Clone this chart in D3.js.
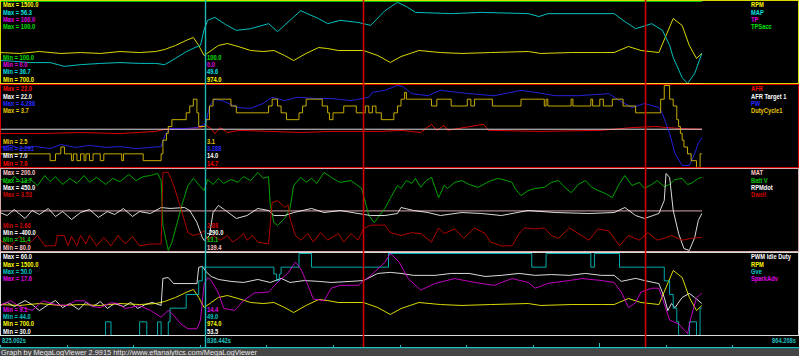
<!DOCTYPE html>
<html>
<head>
<meta charset="utf-8">
<script src="https://cdn.jsdelivr.net/npm/d3@7"></script>
<style>
	html, body { margin: 0; padding: 0; background: #000; overflow: hidden; }
</style>
</head>
<body>
<div id="chart"></div>
<script>
/**
 * log window: 825.002s .. 864.208s, cursor and two red markers
 */
const time_start = 825.002, time_end = 864.208;
const cursor_time = 836.442;
const marker_times = [845.28, 861.02];
const time_labels = ['825.002s', '836.442s', '864.208s'];
const footer_text = 'Graph by MegaLogViewer 2.9915 http://www.efianalytics.com/MegaLogViewer';

// panel 1
const p1_names = ['RPM', 'MAP', 'TP', 'TPSacc'];
const p1_colors = ['#ffff00', '#00e0e0', '#e000e0', '#00e000'];
const p1_max = ['1500.0', '56.3', '100.0', '100.0'];
const p1_min = ['700.0', '36.7', '0.0', '100.0'];
const p1_cursor = ['974.0', '49.6', '0.0', '100.0'];

// panel 2
const p2_names = ['AFR', 'AFR Target 1', 'PW', 'DutyCycle1'];
const p2_colors = ['#ff0000', '#ffffff', '#2828ff', '#e8c800'];
const p2_max = ['22.0', '22.0', '4.288', '3.7'];
const p2_min = ['7.0', '7.0', '2.291', '2.5'];
const p2_cursor = ['14.7', '14.0', '3.288', '3.1'];

// panel 3
const p3_names = ['MAT', 'Batt V', 'RPMdot', 'Dwell'];
const p3_colors = ['#ffc8c8', '#00c000', '#ffffff', '#d00000'];
const p3_max = ['200.0', '13.7', '450.0', '3.53'];
const p3_min = ['80.0', '11.4', '-400.0', '2.66'];
const p3_cursor = ['139.4', '13.1', '-290.0', '2.88'];

// panel 4
const p4_names = ['PWM Idle Duty', 'RPM', 'Gve', 'SparkAdv'];
const p4_colors = ['#ffffff', '#ffff00', '#00c8c8', '#e000e0'];
const p4_max = ['60.0', '1500.0', '50.0', '17.6'];
const p4_min = ['30.0', '700.0', '44.0', '9.1'];
const p4_cursor = ['53.5', '974.0', '49.0', '14.4'];

// [time s, value]
const rpm_data = [[825.0,1002],[826.1,993],[827.2,1012],[828.4,993],[829.5,1002],[830.6,993],[831.7,1012],[832.8,1002],
	[833.7,1012],[834.2,1032],[834.8,1071],[835.4,1120],[835.8,1149],[836.1,1071],[836.4,973],[836.8,1022],[837.2,1071],
	[837.7,1090],[838.3,1061],[839.0,1022],[839.7,1012],[840.3,1022],[840.9,973],[841.4,924],[842.1,993],[842.8,1051],
	[843.3,1041],[843.9,1022],[844.6,1022],[845.3,1022],[846.1,973],[846.8,905],[847.4,963],[848.4,1022],[849.6,1002],
	[850.8,993],[852.4,1002],[854.5,1012],[855.2,993],[856.9,1002],[858.6,1002],[859.3,1002],[860.1,1061],[860.8,1022],
	[861.8,1002],[862.2,1168],[862.6,1334],[863.1,1266],[863.5,1071],[863.9,944],[864.2,993]];

const map_data = [[825.0,42.2],[825.8,42.0],[826.7,41.7],[827.8,41.7],[828.6,40.8],[829.5,41.2],[830.6,41.5],[831.7,41.7],
	[832.8,41.5],[833.7,41.5],[834.2,41.2],[834.8,42.7],[835.4,44.3],[835.9,45.3],[836.2,45.8],[836.4,49.6],[836.6,51.8],
	[837.0,52.5],[837.6,50.8],[838.2,49.4],[839.0,49.8],[840.0,51.0],[840.5,49.1],[841.2,51.8],[841.8,54.1],[842.8,52.2],
	[843.3,51.0],[844.0,51.8],[845.0,51.3],[845.7,50.6],[846.5,54.1],[847.2,56.1],[847.7,55.1],[848.2,53.7],[850.2,53.4],
	[851.9,53.7],[854.5,53.4],[855.1,52.7],[855.6,53.4],[859.3,53.4],[859.8,51.8],[860.5,49.8],[861.4,51.0],[862.0,49.4],
	[862.4,45.8],[862.6,42.9],[863.1,38.1],[863.4,36.7],[863.8,39.1],[864.2,43.9]];

const tp_data = [[825.002,0],[864.208,0]];
const tpsacc_data = [[825.002,100],[864.208,100]];

const afr_data = [[825.0,13.2],[827.2,13.2],[829.5,13.4],[831.7,13.2],[833.7,13.6],[834.2,14.0],[835.4,14.1],[836.2,14.3],
	[836.5,14.7],[836.8,14.1],[837.0,13.2],[837.3,14.3],[837.7,13.4],[838.4,13.8],[840.1,13.6],[841.8,13.4],[843.5,13.6],
	[846.3,13.6],[847.4,13.8],[848.5,13.4],[849.1,14.9],[849.4,13.8],[849.8,14.7],[850.0,13.8],[852.0,14.9],[852.3,13.8],
	[855.2,13.6],[858.6,13.8],[860.3,14.3],[861.6,14.5],[863.1,14.1],[864.2,14.0]];

const afr_target_data = [[825.002,14.0],[864.208,14.0]];

const pw_data = [[825.0,2.78],[825.6,2.83],[826.1,2.75],[827.0,2.80],[827.8,2.75],[828.4,2.85],[829.2,2.78],[830.0,2.83],
	[830.9,2.78],[831.7,2.80],[832.6,2.75],[833.4,2.78],[834.0,2.80],[834.2,3.07],[834.5,3.24],[835.3,3.24],[836.0,3.26],
	[836.5,3.36],[836.7,3.78],[837.0,3.95],[837.4,3.92],[838.3,3.75],[839.0,3.73],[839.7,3.85],[840.2,4.0],[840.9,3.92],
	[841.6,4.0],[842.8,3.97],[843.5,3.97],[844.6,3.92],[845.6,4.0],[845.8,4.12],[846.5,4.17],[847.2,4.29],[847.5,4.26],
	[848.0,4.09],[848.9,4.04],[849.6,4.17],[851.2,4.09],[852.6,4.04],[854.1,4.17],[854.9,4.12],[856.0,4.04],[857.3,4.04],
	[859.0,4.09],[859.6,3.92],[860.3,3.75],[861.0,3.85],[861.8,3.75],[862.0,3.6],[862.4,3.12],[862.7,2.63],[863.1,2.34],
	[863.5,2.34],[863.8,2.63],[864.0,2.88],[864.2,3.02]];

// step changes
const duty_data = [[825.0,2.7],[827.8,2.6],[828.1,2.7],[828.4,2.8],[828.6,2.7],[829.0,2.6],[829.1,2.7],[829.3,2.6],
	[829.5,2.7],[829.7,2.6],[829.8,2.7],[830.0,2.6],[830.2,2.7],[830.6,2.6],[830.8,2.7],[831.8,2.6],[831.9,2.7],[833.0,2.6],
	[834.0,2.7],[834.1,2.9],[834.3,3.0],[834.4,3.1],[834.6,3.2],[835.4,3.3],[835.6,3.4],[835.8,3.5],[836.0,3.3],[836.1,3.1],
	[836.5,3.2],[836.7,3.4],[836.9,3.5],[837.9,3.4],[838.2,3.3],[840.0,3.4],[840.2,3.5],[840.5,3.4],[840.7,3.3],[841.0,3.2],
	[841.7,3.3],[841.9,3.4],[842.1,3.5],[843.0,3.4],[843.3,3.3],[843.4,3.2],[843.6,3.3],[844.2,3.4],[844.9,3.3],[845.4,3.4],
	[845.6,3.3],[845.8,3.4],[846.0,3.3],[846.3,3.2],[847.0,3.3],[847.2,3.4],[847.4,3.5],[847.6,3.6],[847.7,3.5],[849.1,3.4],
	[849.4,3.5],[850.2,3.4],[851.1,3.5],[851.3,3.4],[851.5,3.5],[852.5,3.4],[854.1,3.5],[855.4,3.4],[855.5,3.5],[855.6,3.4],
	[856.9,3.5],[857.0,3.4],[858.0,3.5],[858.1,3.4],[858.5,3.5],[858.7,3.4],[859.2,3.5],[859.8,3.4],[860.5,3.3],[861.9,3.5],
	[862.1,3.7],[862.4,3.5],[862.6,3.4],[862.8,3.2],[862.9,3.1],[863.0,3.0],[863.1,2.9],[863.2,2.8],[863.4,2.7],[863.6,2.6],
	[863.9,2.5],[864.1,2.7],[864.2,2.7]];

const mat_data = [[825.002,139.4],[864.208,139.4]];

const battv_data = [[825.0,13.45],[825.4,13.31],[825.8,13.50],[826.2,13.34],[826.7,13.42],[827.1,13.25],[827.5,13.53],
	[827.8,13.36],[828.1,13.50],[828.5,13.28],[828.9,13.45],[829.3,13.31],[829.7,13.53],[830.0,13.34],[830.4,13.48],
	[830.9,13.28],[831.3,13.45],[831.7,13.36],[832.2,13.56],[832.6,13.39],[833.0,13.50],[833.4,13.53],[833.8,13.59],
	[834.0,13.39],[834.1,12.13],[834.4,11.43],[834.6,11.65],[834.9,12.21],[835.2,12.77],[835.5,13.25],[835.8,13.45],
	[836.2,13.22],[836.4,13.11],[836.6,13.42],[836.9,13.28],[837.2,13.45],[837.5,13.31],[837.9,13.42],[838.3,13.34],
	[838.6,13.50],[839.0,13.39],[839.4,13.62],[839.7,13.45],[840.0,13.50],[840.1,12.69],[840.3,12.21],[840.5,12.13],
	[840.9,12.33],[841.2,12.61],[841.4,13.25],[841.8,13.48],[842.1,13.34],[842.4,13.45],[842.7,13.31],[843.1,13.62],
	[843.5,13.48],[843.8,13.39],[844.0,13.34],[844.6,13.39],[845.2,13.17],[845.6,12.41],[845.9,12.21],[846.5,12.61],
	[846.8,12.89],[847.2,13.25],[847.4,13.17],[847.7,13.39],[848.0,13.31],[848.2,13.45],[848.5,13.20],[848.8,13.39],
	[849.1,13.48],[849.5,12.91],[849.8,13.25],[850.0,13.17],[850.4,13.34],[850.8,13.39],[851.2,13.28],[851.7,13.20],
	[852.3,13.36],[852.8,13.45],[853.3,13.39],[853.6,13.34],[853.8,13.14],[854.1,12.97],[854.5,13.11],[854.9,13.17],
	[855.4,13.20],[855.8,13.34],[856.2,13.39],[856.5,13.22],[856.9,13.05],[857.3,13.28],[857.7,13.39],[858.0,13.22],
	[858.4,13.11],[858.8,13.03],[859.2,12.91],[859.6,13.31],[859.9,13.53],[860.3,13.25],[860.7,13.34],[861.0,13.17],
	[861.4,13.28],[861.7,13.39],[862.1,13.22],[862.4,13.28],[862.7,13.42],[863.1,13.45],[863.4,13.28],[863.6,13.31],
	[864.0,13.45],[864.2,13.48]];

const rpmdot_data = [[825.0,4],[825.4,-27],[825.8,35],[826.4,-58],[826.8,25],[827.2,-16],[827.7,46],[828.1,-37],
	[828.5,14],[829.0,-68],[829.5,4],[830.0,35],[830.5,-47],[831.0,14],[831.4,-16],[831.9,46],[832.4,-37],[832.8,14],
	[833.4,-6],[834.0,56],[834.5,46],[835.3,56],[835.6,25],[836.0,-99],[836.3,-255],[836.4,-286],[836.7,-234],[836.9,4],
	[837.2,77],[837.6,25],[838.2,-58],[838.8,-27],[839.4,46],[840.0,25],[840.3,-27],[840.9,-27],[841.4,4],[842.4,46],
	[843.1,4],[844.0,25],[845.0,-6],[845.7,-27],[846.5,-27],[847.2,-6],[847.4,56],[848.1,25],[848.9,4],[849.6,-27],
	[850.8,4],[851.9,-6],[853.0,-27],[854.5,25],[856.0,4],[857.9,-6],[859.3,4],[859.9,56],[860.5,-27],[861.0,-58],
	[861.8,-6],[862.1,129],[862.2,409],[862.4,367],[862.6,25],[862.9,-213],[863.2,-369],[863.5,-390],[863.8,-255],
	[864.0,-79],[864.2,-6]];

const dwell_data = [[825.0,2.78],[825.6,2.72],[826.1,2.82],[826.6,2.74],[827.1,2.83],[827.5,2.72],[828.1,2.72],[828.2,2.83],
	[828.6,2.83],[828.8,2.72],[829.0,2.82],[829.3,2.72],[829.5,2.83],[829.8,2.74],[830.0,2.83],[830.4,2.72],[830.8,2.81],
	[831.2,2.72],[831.6,2.83],[832.0,2.74],[832.4,2.82],[832.8,2.72],[833.4,2.74],[834.0,2.74],[834.1,3.50],[834.4,3.50],
	[834.7,3.36],[835.1,3.12],[835.5,2.86],[835.8,2.83],[836.2,2.85],[836.4,2.88],[836.6,2.78],[836.9,2.83],[837.3,2.78],
	[837.7,2.83],[838.0,2.76],[838.3,2.80],[838.6,2.85],[838.8,2.78],[839.1,2.83],[839.4,2.76],[840.0,2.74],[840.2,3.18],
	[840.5,3.20],[840.9,3.13],[841.1,3.15],[841.2,3.01],[841.5,2.83],[841.8,2.78],[842.2,2.85],[842.5,2.76],[842.9,2.86],
	[843.3,2.78],[843.9,2.85],[844.2,2.76],[844.6,2.85],[845.0,2.78],[845.3,2.90],[845.7,2.94],[846.5,2.94],[846.8,2.86],
	[847.4,2.83],[848.0,2.86],[848.5,2.85],[849.1,2.76],[849.5,2.91],[849.8,2.85],[850.4,2.90],[850.9,2.80],[851.5,2.91],
	[852.1,2.85],[852.4,2.76],[853.0,2.72],[853.6,2.72],[854.0,2.85],[854.3,2.91],[854.9,2.90],[855.4,2.91],[855.8,2.83],
	[856.2,2.80],[856.8,2.91],[857.3,2.85],[857.9,2.78],[858.4,2.90],[859.0,2.88],[859.6,2.72],[860.1,2.83],[860.7,2.78],
	[861.2,2.86],[861.7,2.78],[862.1,2.80],[862.5,2.83],[863.1,2.78],[863.6,2.80],[864.2,2.81]];

const idle_data = [[825.0,41.0],[825.4,42.1],[825.8,40.6],[826.4,42.8],[826.8,41.3],[827.2,39.1],[827.7,41.3],[828.1,42.8],
	[828.5,40.2],[828.9,41.7],[829.4,39.5],[829.8,42.1],[830.2,40.6],[830.6,42.4],[831.0,39.9],[831.4,41.7],[831.9,40.6],
	[832.3,42.1],[832.7,39.9],[833.1,41.3],[833.5,42.1],[834.0,41.0],[834.1,50.9],[834.4,51.2],[834.7,49.0],[836.0,49.0],
	[836.1,54.9],[836.3,55.3],[836.5,53.4],[836.8,51.6],[837.2,50.5],[837.9,49.8],[838.6,49.4],[839.4,50.5],[840.1,49.4],
	[840.7,50.9],[841.2,49.4],[842.0,50.1],[842.8,49.8],[843.5,49.4],[844.6,49.8],[845.3,50.1],[846.1,52.7],[846.8,53.1],
	[847.4,52.7],[848.1,52.0],[849.3,52.0],[850.2,52.7],[851.2,52.7],[852.1,51.6],[853.0,52.0],[854.0,52.7],[854.9,52.0],
	[855.8,52.3],[856.8,52.0],[857.7,52.7],[858.6,52.0],[859.3,52.0],[859.7,49.8],[860.5,50.9],[861.0,50.1],[861.8,49.0],
	[862.1,43.9],[862.3,39.1],[862.5,41.7],[862.7,40.2],[863.1,43.9],[863.5,45.4],[863.8,43.9],[864.2,41.7]];

// step changes
const gve_data = [[825.0,44],[830.9,45],[831.2,44],[832.8,45],[833.2,44],[833.8,45],[834.0,44],[834.4,45],[834.5,46],
	[835.4,47],[836.1,48],[836.3,49],[840.3,48.5],[840.45,48],[840.6,48.5],[840.7,49],[841.7,50],[842.4,49],[846.7,50],
	[854.7,49],[855.5,50],[858.0,49],[858.2,50],[859.6,49],[862.1,48],[862.4,47],[862.6,46],[862.8,45],[862.9,44],
	[863.5,45],[863.9,44],[864.1,46],[864.2,46]];

const spark_data = [[825.0,12.2],[825.6,12.7],[826.1,12.1],[826.8,11.7],[827.4,12.7],[828.1,12.3],[828.8,12.2],[829.2,12.7],
	[829.7,12.7],[830.2,12.1],[830.6,12.0],[831.2,12.5],[831.6,12.4],[832.0,11.9],[832.3,12.0],[832.8,12.2],[833.4,11.7],
	[834.0,11.0],[834.4,11.7],[834.7,11.2],[835.1,10.3],[835.5,9.8],[836.0,9.8],[836.2,10.7],[836.4,14.4],[836.6,15.1],
	[836.8,14.8],[837.2,13.5],[837.5,11.9],[838.1,11.7],[838.6,12.7],[839.2,13.5],[840.0,13.6],[840.5,14.6],[841.1,15.6],
	[841.5,16.7],[841.8,16.0],[842.2,14.3],[842.5,12.9],[843.1,12.7],[843.5,14.0],[844.0,14.3],[845.0,14.3],[845.7,15.3],
	[846.5,16.7],[846.8,17.6],[847.3,16.7],[847.8,15.0],[848.5,13.8],[849.3,14.5],[850.4,15.0],[851.5,14.6],[852.6,14.3],
	[853.6,15.0],[854.5,14.6],[854.9,14.0],[855.6,14.5],[856.8,14.8],[857.5,15.0],[858.6,14.8],[859.3,14.6],[859.7,13.6],
	[860.1,12.0],[860.5,12.5],[860.8,13.6],[861.4,14.0],[861.8,14.0],[862.1,12.4],[862.4,10.7],[862.9,10.3],[863.4,9.3],
	[863.6,11.0],[863.9,13.0],[864.2,13.5]];

/**
 * panel table built from the arrays above
 */
const make_panel = (names, colors, maxs, mins, cursors, datas, steps) => names.map((name, i) => ({
	name: name, color: colors[i], max: maxs[i], min: mins[i], cursor: cursors[i], data: datas[i], step: steps[i]
}));

const panels = [
	make_panel(p1_names, p1_colors, p1_max, p1_min, p1_cursor, [rpm_data, map_data, tp_data, tpsacc_data], [0, 0, 0, 0]),
	make_panel(p2_names, p2_colors, p2_max, p2_min, p2_cursor, [afr_data, afr_target_data, pw_data, duty_data], [0, 0, 0, 1]),
	make_panel(p3_names, p3_colors, p3_max, p3_min, p3_cursor, [mat_data, battv_data, rpmdot_data, dwell_data], [0, 0, 0, 0]),
	make_panel(p4_names, p4_colors, p4_max, p4_min, p4_cursor, [idle_data, rpm_data, gve_data, spark_data], [0, 0, 1, 0])
];

const width = 799, height = 356;
const plot_right = 702;
const panel_height = 84;
const font_size = 8;
const text_scale = 0.72;
const row_step = 7.3;
const legend_x = 751;
const axis_color = '#20c0c0';

const svg = d3.select('#chart')
	.append('svg')
	.attr('width', width)
	.attr('height', height)
	.style('display', 'block')
	.style('background', '#000');

const x = d3.scaleLinear().domain([time_start, time_end]).range([0, plot_right]);

// condensed little label font like the original viewer
const add_text = (str, px, py, color, anchor = 'start') => svg.append('text')
	.attr('transform', `translate(${px},${py}) scale(${text_scale},1)`)
	.attr('text-anchor', anchor)
	.attr('fill', color)
	.style('font', `bold ${font_size}px "Liberation Sans", Arial, sans-serif`)
	.text(str);

// traces
panels.forEach((series, p) => {
	const top = p * panel_height;
	const clip_id = `clip-${p}`;
	svg.append('clipPath').attr('id', clip_id)
		.append('rect').attr('x', 0).attr('y', top).attr('width', plot_right + 1).attr('height', panel_height);
	const g = svg.append('g').attr('clip-path', `url(#${clip_id})`);

	series.forEach(s => {
		const lo = +s.min, hi = +s.max;
		const y = d3.scaleLinear()
			.domain(lo === hi ? [lo - 1, hi] : [lo, hi])
			.range([top + 83.5, top + 1.5]);
		const line = d3.line()
			.x(d => x(d[0]))
			.y(d => y(d[1]))
			.curve(s.step ? d3.curveStepAfter : d3.curveLinear);
		g.append('path')
			.datum(s.data)
			.attr('d', line)
			.attr('fill', 'none')
			.attr('stroke', s.color)
			.attr('stroke-opacity', 0.85)
			.attr('stroke-width', 1);
	});
});

// panel frames, in the colour of each panel's first trace
panels.forEach((series, p) => {
	const top = p * panel_height;
	svg.append('rect')
		.attr('x', 0.5).attr('y', top + 0.5)
		.attr('width', width - 1).attr('height', panel_height - 1)
		.attr('fill', 'none')
		.attr('stroke', series[0].color)
		.attr('stroke-opacity', 0.85);
});

// red markers and the cursor
marker_times.forEach(t => {
	svg.append('line')
		.attr('x1', Math.round(x(t)) + 0.5).attr('x2', Math.round(x(t)) + 0.5)
		.attr('y1', 0).attr('y2', 348)
		.attr('stroke', '#d00000')
		.attr('stroke-width', 1.6);
});
const cursor_x = Math.round(x(cursor_time)) + 0.5;
svg.append('line')
	.attr('x1', cursor_x).attr('x2', cursor_x)
	.attr('y1', 0).attr('y2', 348)
	.attr('stroke', '#20b8b8')
	.attr('stroke-width', 1.4);

// labels: max rows, min rows (reversed), cursor values, legend
panels.forEach((series, p) => {
	const top = p * panel_height;
	series.forEach((s, i) => {
		add_text(`Max = ${s.max}`, 3, top + 7.3 + row_step * i, s.color);
		const row = series.length - 1 - i;
		const min_y = top + 81.5 - row_step * (series.length - 1 - row);
		add_text(`Min = ${s.min}`, 3, min_y, s.color);
		add_text(s.cursor, cursor_x + 1.5, min_y, s.color);

		const legend = add_text(s.name, 0, 0, s.color);
		const w = legend.node().getComputedTextLength() * text_scale;
		const lx = Math.min(legend_x, width - 2 - w);
		legend.attr('transform', `translate(${lx},${top + 7.3 + row_step * i}) scale(${text_scale},1)`);
	});
});

// time row
add_text(time_labels[0], 2, 343, axis_color);
add_text(time_labels[1], cursor_x + 1.5, 343, axis_color);
add_text(time_labels[2], width - 3, 343, axis_color, 'end');

svg.append('rect').attr('x', 0).attr('y', 347).attr('width', width).attr('height', 1.6).attr('fill', axis_color);
d3.range(0, 13).forEach(i => {
	const tx = Math.round(i * width / 12) + 0.5;
	svg.append('line')
		.attr('x1', tx).attr('x2', tx)
		.attr('y1', i === 9 ? 343 : 345).attr('y2', 347)
		.attr('stroke', axis_color);
});

// footer
svg.append('rect').attr('x', 0).attr('y', 348.6).attr('width', width).attr('height', height - 348.6).attr('fill', '#454545');
svg.append('text')
	.attr('x', 1).attr('y', 355.2)
	.attr('fill', '#e8e8e8')
	.attr('textLength', 256)
	.attr('lengthAdjust', 'spacingAndGlyphs')
	.style('font', '8px "Liberation Sans", Arial, sans-serif')
	.text(footer_text);
</script>
</body>
</html>
